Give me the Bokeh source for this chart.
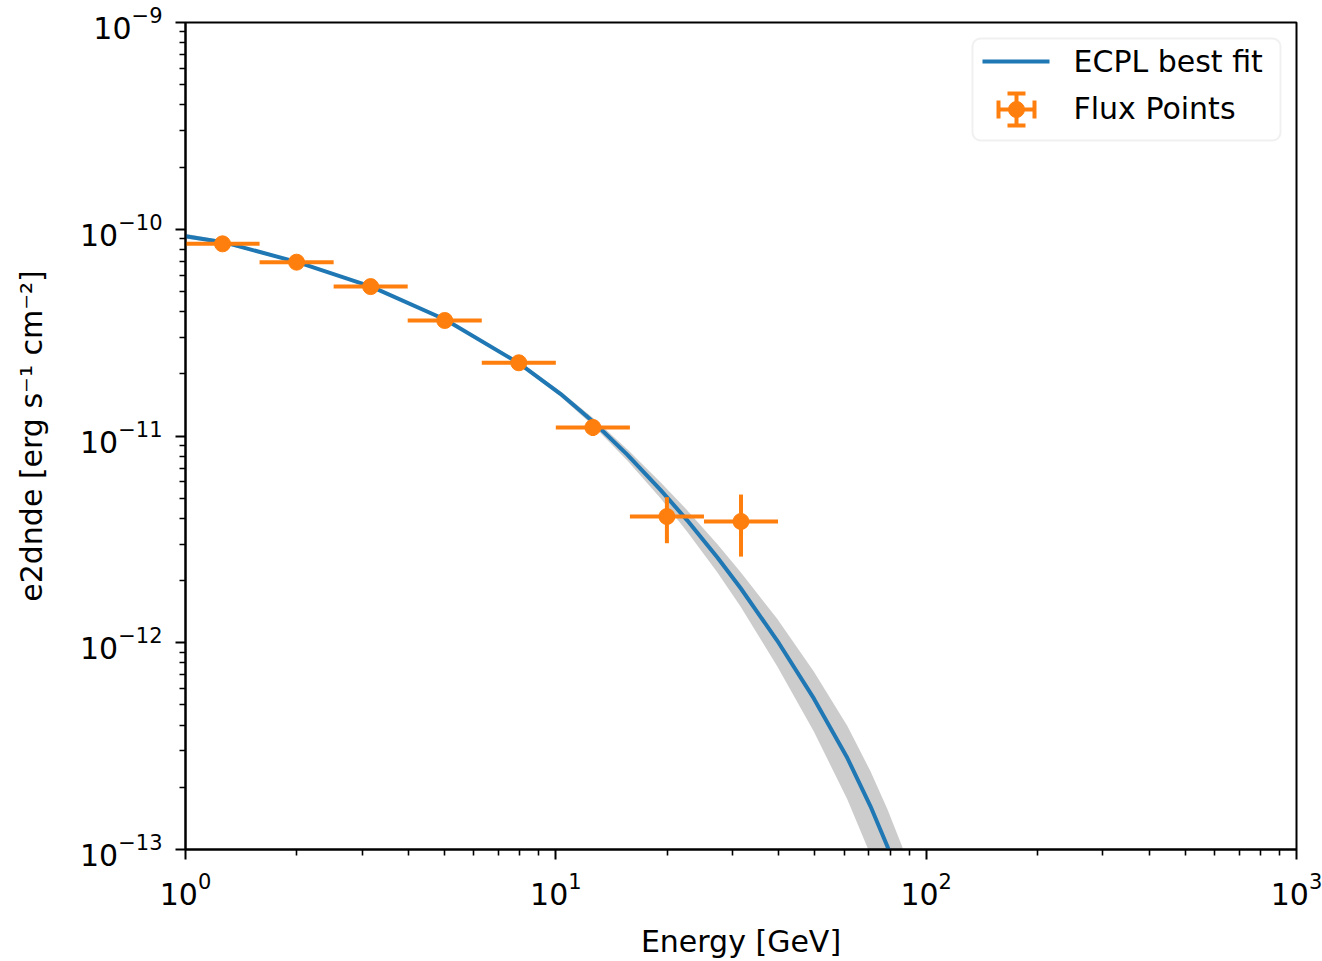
import math
from bokeh.plotting import figure
from bokeh.models import Range1d, FixedTicker, Label, BoxAnnotation
from bokeh.embed import file_html
from bokeh.resources import INLINE

# ---------------- data ----------------
energy_center = [1.259, 1.995, 3.162, 5.012, 7.943, 12.59, 19.95, 31.62]
energy_min = [1.0, 1.585, 2.512, 3.981, 6.310, 10.0, 15.85, 25.12]
energy_max = [1.585, 2.512, 3.981, 6.310, 10.0, 15.85, 25.12, 39.81]
e2dnde = [8.50e-11, 6.93e-11, 5.28e-11, 3.62e-11, 2.26e-11, 1.10e-11, 4.08e-12, 3.86e-12]
e2dnde_errn = [2.5e-12, 2.0e-12, 1.5e-12, 1.1e-12, 0.8e-12, 1.0e-12, 1.05e-12, 1.25e-12]
e2dnde_errp = [2.5e-12, 2.0e-12, 1.5e-12, 1.1e-12, 0.8e-12, 0.9e-12, 0.98e-12, 1.35e-12]

model_energy = [1.0, 1.266, 2.006, 3.173, 5.036, 7.943, 10.29, 12.66, 15.59, 19.17,
                22.63, 27.28, 31.53, 39.60, 49.73, 61.22, 70.74, 78.5, 86.3]
model_e2dnde = [9.26e-11, 8.66e-11, 6.93e-11, 5.28e-11, 3.65e-11, 2.25e-11, 1.60e-11,
                1.166e-11, 8.13e-12, 5.49e-12, 3.91e-12, 2.593e-12, 1.84e-12, 1.025e-12,
                5.38e-13, 2.777e-13, 1.618e-13, 1.04e-13, 6.62e-14]
band_lower = [9.01e-11, 8.48e-11, 6.83e-11, 5.22e-11, 3.60e-11, 2.204e-11, 1.553e-11,
              1.116e-11, 7.62e-12, 5.00e-12, 3.44e-12, 2.19e-12, 1.496e-12, 7.69e-13,
              3.72e-13, 1.752e-13, 9.42e-14, 5.71e-14, 3.40e-14]
band_upper = [9.50e-11, 8.82e-11, 7.03e-11, 5.34e-11, 3.70e-11, 2.297e-11, 1.645e-11,
              1.215e-11, 8.63e-12, 5.98e-12, 4.38e-12, 3.00e-12, 2.20e-12, 1.305e-12,
              7.26e-13, 3.97e-13, 2.39e-13, 1.574e-13, 1.025e-13]

x_major = [1, 10, 100, 1000]
y_major = [1e-13, 1e-12, 1e-11, 1e-10, 1e-9]

line_label = "ECPL best fit"
points_label = "Flux Points"
x_title = "Energy [GeV]"
y_title = "e2dnde [erg s\u207b\u00b9 cm\u207b\u00b2]"

# ---------------- styling / layout ----------------
C0 = "#1f77b4"
C1 = "#ff7f0e"
FONT = "DejaVu Sans"
FS = "30px"
W, H = 1322, 961
FL, FR, FT, FB = 185, 1296, 22, 849
X0, X1 = 1.0, 1000.0
Y0, Y1 = 1e-13, 1e-9


def sx_to_x(px):
    f = (px - FL) / (FR - FL)
    return 10 ** (math.log10(X0) + f * (math.log10(X1) - math.log10(X0)))


def sy_to_y(py):
    f = (FB - py) / (FB - FT)
    return 10 ** (math.log10(Y0) + f * (math.log10(Y1) - math.log10(Y0)))


p = figure(width=W, height=H, x_axis_type="log", y_axis_type="log",
           x_range=Range1d(X0, X1), y_range=Range1d(Y0, Y1),
           output_backend="svg", toolbar_location=None,
           min_border_left=FL, min_border_right=W - FR,
           min_border_top=FT, min_border_bottom=H - FB)
p.grid.visible = False
p.background_fill_color = "white"
p.border_fill_color = "white"
p.outline_line_color = "black"
p.outline_line_width = 2

x_minor = [m * d for d in x_major[:-1] for m in range(2, 10)]
y_minor = [m * d for d in y_major[:-1] for m in range(2, 10)]
p.xaxis.ticker = FixedTicker(ticks=x_major, minor_ticks=x_minor)
p.yaxis.ticker = FixedTicker(ticks=y_major, minor_ticks=y_minor)
for ax in (p.xaxis, p.yaxis):
    ax.axis_line_width = 2
    ax.major_tick_line_width = 2
    ax.minor_tick_line_width = 1.6
    ax.major_tick_in = 0
    ax.major_tick_out = 10
    ax.minor_tick_in = 0
    ax.minor_tick_out = 6
    ax.major_label_text_font = FONT
    ax.major_label_text_font_size = FS
    ax.major_label_text_color = "black"
    ax.axis_label_text_font = FONT
    ax.axis_label_text_font_size = FS
    ax.axis_label_text_font_style = "normal"
    ax.axis_label_text_color = "black"
p.xaxis.major_label_standoff = 12
p.yaxis.major_label_standoff = 13
p.xaxis.axis_label = x_title
p.yaxis.axis_label = y_title
p.xaxis.axis_label_standoff = 16
p.yaxis.axis_label_standoff = 28

# ---------------- data glyphs ----------------
p.varea(x=model_energy, y1=band_lower, y2=band_upper, fill_color="black", fill_alpha=0.2)
p.line(model_energy, model_e2dnde, line_color=C0, line_width=4, line_join="round")
p.segment(x0=energy_min, x1=energy_max, y0=e2dnde, y1=e2dnde, line_color=C1, line_width=4)
err_lo = [v - e for v, e in zip(e2dnde, e2dnde_errn)]
err_hi = [v + e for v, e in zip(e2dnde, e2dnde_errp)]
p.segment(x0=energy_center, x1=energy_center, y0=err_lo, y1=err_hi, line_color=C1, line_width=4)
p.scatter(energy_center, e2dnde, size=16, marker="circle", fill_color=C1, line_color=C1)

# ---------------- legend ----------------
p.add_layout(BoxAnnotation(left=sx_to_x(972), right=sx_to_x(1280),
                           top=sy_to_y(38), bottom=sy_to_y(140),
                           fill_color="white", fill_alpha=0.8,
                           line_color="#cccccc", line_width=2, border_radius=8))
p.segment(x0=[sx_to_x(982)], x1=[sx_to_x(1049)], y0=[sy_to_y(61)], y1=[sy_to_y(61)],
          line_color=C0, line_width=4, level="overlay")
lx, ly = 1016, 109
p.segment(x0=[sx_to_x(lx - 18), sx_to_x(lx)], x1=[sx_to_x(lx + 18), sx_to_x(lx)],
          y0=[sy_to_y(ly), sy_to_y(ly - 16)], y1=[sy_to_y(ly), sy_to_y(ly + 16)],
          line_color=C1, line_width=4, level="overlay")
p.segment(x0=[sx_to_x(lx - 18), sx_to_x(lx + 18), sx_to_x(lx - 9), sx_to_x(lx - 9)],
          x1=[sx_to_x(lx - 18), sx_to_x(lx + 18), sx_to_x(lx + 9), sx_to_x(lx + 9)],
          y0=[sy_to_y(ly - 9), sy_to_y(ly - 9), sy_to_y(ly - 16), sy_to_y(ly + 16)],
          y1=[sy_to_y(ly + 9), sy_to_y(ly + 9), sy_to_y(ly - 16), sy_to_y(ly + 16)],
          line_color=C1, line_width=4, level="overlay")
p.scatter([sx_to_x(lx)], [sy_to_y(ly)], size=16, marker="circle",
          fill_color=C1, line_color=C1, level="overlay")
p.add_layout(Label(x=sx_to_x(1073), y=sy_to_y(61), text=line_label, text_font=FONT,
                   text_font_size=FS, text_baseline="middle", text_color="black"))
p.add_layout(Label(x=sx_to_x(1073), y=sy_to_y(108), text=points_label, text_font=FONT,
                   text_font_size=FS, text_baseline="middle", text_color="black"))

open("out.html", "w").write(file_html(p, INLINE))
